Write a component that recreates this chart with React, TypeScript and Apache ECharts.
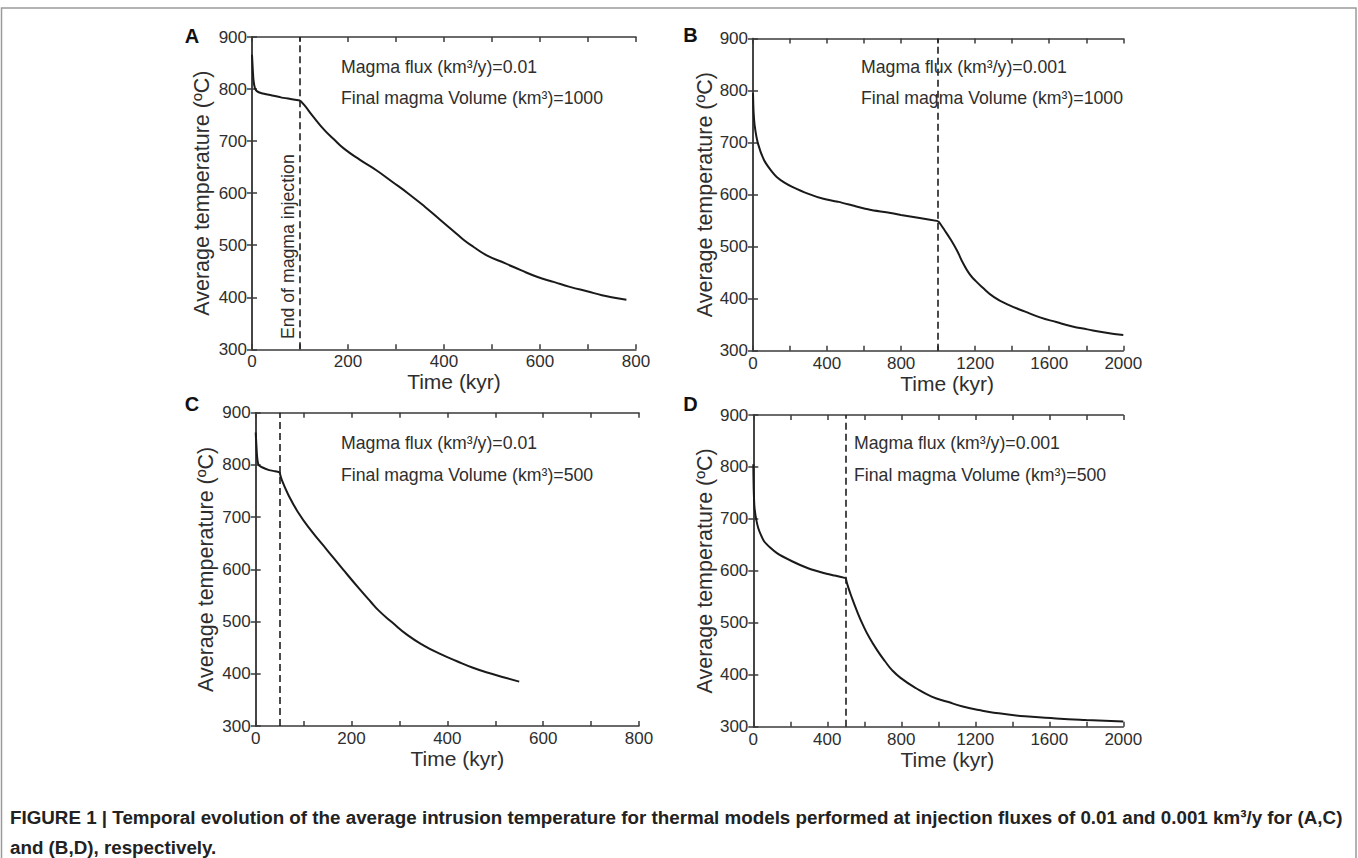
import React, { useEffect, useRef } from "react";
import * as echarts from "echarts";

// ---------- data (time in kyr, temperature in °C) ----------
const panelLetters = ["A", "B", "C", "D"];
const xMaxes = [800, 2000, 800, 2000];
const xTickSteps = [100, 200, 100, 200];
const xLabelSteps = [200, 400, 200, 400];
const yTicks = [300, 400, 500, 600, 700, 800, 900];
const injectionEnd = [100, 1000, 50, 500];
const fluxLabels = ["0.01", "0.001", "0.01", "0.001"];
const volumeLabels = ["1000", "1000", "500", "500"];

const aInjection: number[][] = [
  [0, 866], [1, 848], [3, 818], [6, 802], [10, 796], [20, 792], [40, 788], [60, 784], [80, 781], [100, 778],
];
const aCooling: number[][] = [
  [100, 778], [110, 768], [125, 750], [151, 721], [170, 704], [191, 686], [225, 664], [259, 644], [292, 622],
  [326, 599], [360, 574], [393, 548], [420, 527], [440, 511], [461, 497], [490, 480], [528, 465], [560, 452],
  [595, 439], [630, 429], [662, 420], [700, 411], [729, 404], [755, 399], [780, 395],
];
const bInjection: number[][] = [
  [0, 795], [3, 760], [10, 730], [27, 698], [60, 666], [100, 645], [128, 634], [170, 623], [212, 615],
  [296, 602], [380, 592], [463, 586], [550, 578], [631, 571], [720, 566], [799, 561], [900, 555], [1000, 549],
];
const bCooling: number[][] = [
  [1000, 549], [1015, 542], [1034, 532], [1065, 515], [1101, 493], [1135, 468], [1168, 448], [1200, 435],
  [1235, 423], [1302, 403], [1380, 388], [1470, 375], [1550, 364], [1638, 355], [1720, 347], [1806, 341],
  [1900, 335], [2000, 330],
];
const cInjection: number[][] = [
  [0, 862], [1, 845], [3, 815], [6, 800], [12, 796], [28, 790], [40, 788], [50, 786],
];
const cCooling: number[][] = [
  [50, 786], [55, 770], [68, 743], [88, 710], [115, 675], [149, 637], [183, 599], [216, 563], [240, 538],
  [258, 520], [284, 499], [317, 474], [351, 454], [385, 438], [420, 424], [452, 412], [485, 402], [519, 393],
  [550, 385],
];
const dInjection: number[][] = [
  [0, 805], [2, 760], [7, 720], [27, 682], [60, 656], [128, 634], [212, 618], [296, 605], [380, 596],
  [440, 591], [500, 586],
];
const dCooling: number[][] = [
  [500, 586], [510, 572], [527, 554], [561, 522], [595, 494], [628, 471], [670, 447], [712, 426], [750, 409],
  [796, 394], [880, 374], [964, 358], [1050, 348], [1132, 339], [1220, 332], [1300, 327], [1468, 320],
  [1636, 316], [1800, 313], [2000, 310],
];
const injectionSeries = [aInjection, bInjection, cInjection, dInjection];
const coolingSeries = [aCooling, bCooling, cCooling, dCooling];

const captionLine1 =
  "FIGURE 1 | Temporal evolution of the average intrusion temperature for thermal models performed at injection fluxes of 0.01 and 0.001 km³/y for (A,C)";
const captionLine2 = "and (B,D), respectively.";

// ---------- layout / style ----------
const FONT = '"Liberation Sans", Arial, Helvetica, sans-serif';
const TXT = "#2e2e2e";
const AX = "#3a3a3a";
const grids = [
  { left: 252, top: 37, width: 384, height: 312.3 },
  { left: 753, top: 38.5, width: 370.3, height: 312.2 },
  { left: 255.7, top: 412.7, width: 383.3, height: 313.3 },
  { left: 753.3, top: 415, width: 370, height: 311.7 },
];
const yNameGaps = [39, 34, 39, 36];
const xNamePads = [20, 18, 20, 18];
const letterPos = [[192, 35.5], [690.5, 35], [192, 403.5], [690.5, 403.5]];
const notePos = [[341, 66.7, 98.3], [861, 66.7, 98.3], [341, 443.3, 475], [854, 443.3, 475]];

export default function App() {
  const ref = useRef<HTMLDivElement>(null);
  useEffect(() => {
    if (!ref.current) return;
    const chart = echarts.init(ref.current, undefined, { renderer: "svg" });
    const xAxis: any[] = [];
    const yAxis: any[] = [];
    const series: any[] = [];
    const lineStyle = { color: AX, width: 1.5 };
    grids.forEach((g, i) => {
      const step = xLabelSteps[i];
      xAxis.push({
        type: "value", gridIndex: i, min: 0, max: xMaxes[i], interval: xTickSteps[i],
        axisLine: { show: true, lineStyle },
        axisTick: { show: true, inside: true, length: 5, lineStyle },
        splitLine: { show: false },
        axisLabel: {
          margin: 4, fontSize: 17, color: TXT, fontFamily: FONT,
          formatter: (v: number) => (v % step === 0 ? String(v) : ""),
        },
        name: "Time (kyr)", nameLocation: "middle", nameGap: 21,
        nameTextStyle: { fontSize: 21, color: TXT, fontFamily: FONT, padding: [0, 0, 0, xNamePads[i]] },
      });
      xAxis.push({
        type: "value", gridIndex: i, position: "top", min: 0, max: xMaxes[i], interval: xTickSteps[i],
        axisLine: { show: true, lineStyle },
        axisTick: { show: true, inside: true, length: 5, lineStyle },
        splitLine: { show: false }, axisLabel: { show: false },
      });
      yAxis.push({
        type: "value", gridIndex: i, min: yTicks[0], max: yTicks[yTicks.length - 1], interval: 100,
        axisLine: { show: true, lineStyle },
        axisTick: { show: true, inside: true, length: 5, lineStyle },
        splitLine: { show: false },
        axisLabel: { margin: 5, fontSize: 17, color: TXT, fontFamily: FONT },
        name: "Average temperature (ºC)", nameLocation: "middle", nameGap: yNameGaps[i], nameRotate: 90,
        nameTextStyle: { fontSize: 21.5, color: TXT, fontFamily: FONT },
      });
      yAxis.push({
        type: "value", gridIndex: i, position: "right", min: yTicks[0], max: yTicks[yTicks.length - 1], interval: 100,
        axisLine: { show: true, lineStyle },
        axisTick: { show: true, inside: true, length: 5, lineStyle },
        splitLine: { show: false }, axisLabel: { show: false },
      });
      const common = {
        type: "line", xAxisIndex: 2 * i, yAxisIndex: 2 * i, showSymbol: false, symbol: "none",
        silent: true, lineStyle: { color: "#1a1a1a", width: 2 },
      };
      series.push({
        ...common, data: injectionSeries[i], smooth: 0.2,
        markLine: {
          silent: true, symbol: ["none", "none"], label: { show: false },
          lineStyle: { type: [7, 4], color: "#1f1f1f", width: 1.6 },
          data: [{ xAxis: injectionEnd[i] }],
        },
      });
      series.push({ ...common, data: coolingSeries[i], smooth: 0.5 });
    });

    const graphic: any[] = [
      {
        type: "rect", silent: true, z: 0,
        shape: { x: 1.5, y: 8, width: 1354.5, height: 900 },
        style: { fill: "none", stroke: "#9a9a9a", lineWidth: 1.5 },
      },
    ];
    panelLetters.forEach((l, i) => {
      graphic.push({
        type: "text", x: letterPos[i][0], y: letterPos[i][1],
        style: { text: l, font: `bold 20px ${FONT}`, fill: "#111", align: "center", verticalAlign: "middle" },
      });
      const [nx, ny1, ny2] = notePos[i];
      graphic.push({
        type: "text", x: nx, y: ny1, z: 10,
        style: { text: `Magma flux (km³/y)=${fluxLabels[i]}`, font: `17.7px ${FONT}`, fill: TXT, verticalAlign: "middle" },
      });
      graphic.push({
        type: "text", x: nx, y: ny2, z: 10,
        style: { text: `Final magma Volume (km³)=${volumeLabels[i]}`, font: `17.7px ${FONT}`, fill: TXT, verticalAlign: "middle" },
      });
    });
    graphic.push({
      type: "text", x: 287.5, y: 246.7, rotation: Math.PI / 2,
      style: { text: "End of magma injection", font: `17.7px ${FONT}`, fill: TXT, align: "center", verticalAlign: "middle" },
    });
    graphic.push({
      type: "text", x: 10, y: 817,
      style: { text: captionLine1, font: `bold 18.8px ${FONT}`, fill: "#222", verticalAlign: "middle" },
    });
    graphic.push({
      type: "text", x: 10, y: 847,
      style: { text: captionLine2, font: `bold 18.8px ${FONT}`, fill: "#222", verticalAlign: "middle" },
    });

    chart.setOption({
      animation: false,
      backgroundColor: "#ffffff",
      grid: grids.map((g) => ({ ...g, containLabel: false })),
      xAxis, yAxis, series, graphic,
    });
    return () => chart.dispose();
  }, []);
  return (
    <div
      ref={ref}
      style={{ position: "absolute", left: 0, top: 0, width: 1358, height: 858, background: "#fff" }}
    />
  );
}
